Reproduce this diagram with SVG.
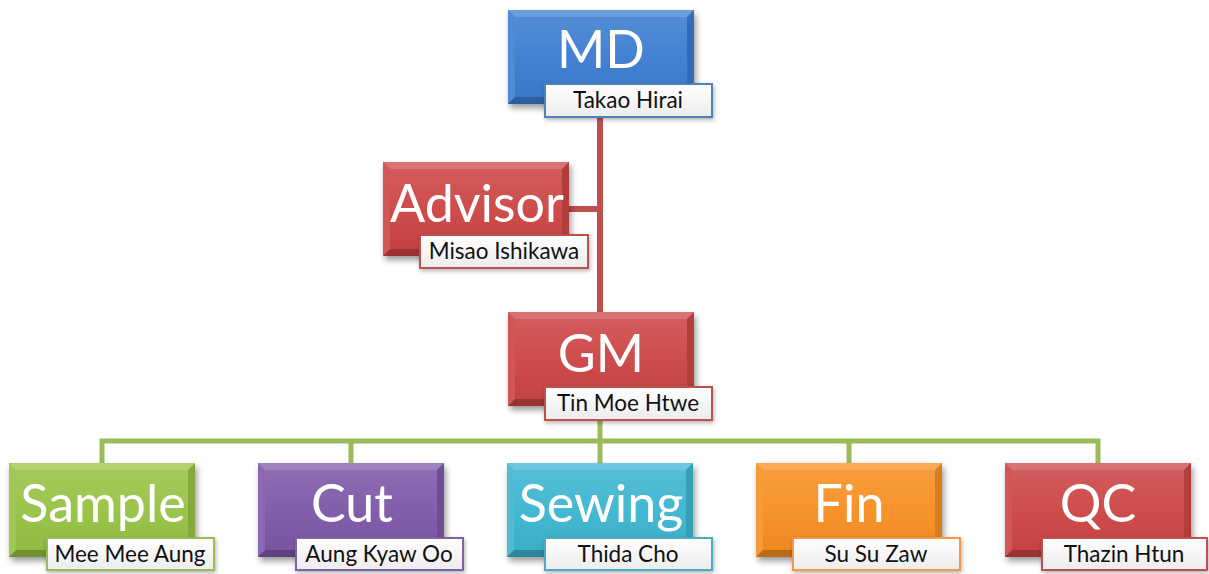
<svg xmlns="http://www.w3.org/2000/svg" xmlns:xlink="http://www.w3.org/1999/xlink" width="1209" height="574" viewBox="0 0 1209 574">
<defs>
<style>
.big{font-family:Lato,"Open Sans","Liberation Sans",sans-serif;font-size:52px;fill:#fff;text-anchor:middle}
.lbl{font-family:Lato,"Open Sans","Liberation Sans",sans-serif;font-size:22.5px;fill:#111;text-anchor:middle}
.lab{fill:url(#labg);stroke-width:2}
.red-c{stroke:#c0504d;stroke-width:6;fill:none}
.grn-c{stroke:#9bbb59;stroke-width:5;fill:none}
</style>
<filter id="sh" x="-10%" y="-10%" width="125%" height="130%">
<feDropShadow dx="2" dy="4" stdDeviation="3" flood-color="#000" flood-opacity="0.4"/>
</filter>
<filter id="sh2" x="-10%" y="-20%" width="125%" height="150%">
<feDropShadow dx="1" dy="2" stdDeviation="2" flood-color="#000" flood-opacity="0.3"/>
</filter>
<linearGradient id="labg" x1="0" y1="0" x2="0" y2="1">
<stop offset="0" stop-color="#ffffff"/>
<stop offset="1" stop-color="#ececec"/>
</linearGradient>
<linearGradient id="face" x1="0" y1="0" x2="0" y2="1">
<stop offset="0" stop-color="#fff" stop-opacity="0.12"/>
<stop offset="0.5" stop-color="#fff" stop-opacity="0.04"/>
<stop offset="1" stop-color="#000" stop-opacity="0.04"/>
</linearGradient>
<g id="bevel">
<rect x="7" y="7" width="172" height="80" fill="url(#face)"/>
<polygon points="0,0 186,0 179,7 7,7" fill="#fff" fill-opacity="0.25"/>
<polygon points="0,0 7,7 7,87 0,94" fill="#fff" fill-opacity="0.1"/>
<polygon points="186,0 186,94 179,87 179,7" fill="#000" fill-opacity="0.12"/>
<polygon points="0,94 186,94 179,87 7,87" fill="#000" fill-opacity="0.25"/>
</g>
</defs>
<rect width="1209" height="574" fill="#fff"/>

<g id="connectors">
<path class="red-c" d="M600,105 V312 M568,209 H600"/>
<path class="grn-c" d="M600,419 V441 M102,463 V441 H1098 V463 M351,441 V463 M600,441 V463 M849,441 V463"/>
</g>

<g id="md">
<rect x="508" y="10" width="186" height="94" fill="#3b7dd0" filter="url(#sh)"/>
<use xlink:href="#bevel" x="508" y="10"/>
<text class="big" x="601" y="68">MD</text>
<rect class="lab" x="545" y="84" width="167" height="33" stroke="#4f81bd" filter="url(#sh2)"/>
<text class="lbl" x="628" y="108">Takao Hirai</text>
</g>

<g id="advisor">
<rect x="383" y="162" width="186" height="94" fill="#cc4444" filter="url(#sh)"/>
<use xlink:href="#bevel" x="383" y="162"/>
<text class="big" x="477" y="222">Advisor</text>
<rect class="lab" x="420" y="235" width="168" height="33" stroke="#c0504d" filter="url(#sh2)"/>
<text class="lbl" x="504" y="259">Misao Ishikawa</text>
</g>

<g id="gm">
<rect x="508" y="312" width="186" height="94" fill="#cc4444" filter="url(#sh)"/>
<use xlink:href="#bevel" x="508" y="312"/>
<text class="big" x="601" y="372">GM</text>
<rect class="lab" x="545" y="387" width="167" height="33" stroke="#c0504d" filter="url(#sh2)"/>
<text class="lbl" x="628" y="411">Tin Moe Htwe</text>
</g>

<g id="sample">
<rect x="9" y="463" width="186" height="94" fill="#97c245" filter="url(#sh)"/>
<use xlink:href="#bevel" x="9" y="463"/>
<text class="big" x="103" y="522">Sample</text>
<rect class="lab" x="47" y="538" width="167" height="32" stroke="#9bbb59" filter="url(#sh2)"/>
<text class="lbl" x="130" y="562">Mee Mee Aung</text>
</g>

<g id="cut">
<rect x="258" y="463" width="186" height="94" fill="#7d59a8" filter="url(#sh)"/>
<use xlink:href="#bevel" x="258" y="463"/>
<text class="big" x="352" y="522">Cut</text>
<rect class="lab" x="296" y="538" width="167" height="32" stroke="#8064a2" filter="url(#sh2)"/>
<text class="lbl" x="379" y="562">Aung Kyaw Oo</text>
</g>

<g id="sewing">
<rect x="507" y="463" width="186" height="94" fill="#3db5d0" filter="url(#sh)"/>
<use xlink:href="#bevel" x="507" y="463"/>
<text class="big" x="601" y="522">Sewing</text>
<rect class="lab" x="545" y="538" width="167" height="32" stroke="#4bacc6" filter="url(#sh2)"/>
<text class="lbl" x="628" y="562">Thida Cho</text>
</g>

<g id="fin">
<rect x="756" y="463" width="186" height="94" fill="#f78f24" filter="url(#sh)"/>
<use xlink:href="#bevel" x="756" y="463"/>
<text class="big" x="849" y="522">Fin</text>
<rect class="lab" x="793" y="538" width="167" height="32" stroke="#f79646" filter="url(#sh2)"/>
<text class="lbl" x="876" y="562">Su Su Zaw</text>
</g>

<g id="qc">
<rect x="1005" y="463" width="186" height="94" fill="#cc4444" filter="url(#sh)"/>
<use xlink:href="#bevel" x="1005" y="463"/>
<text class="big" x="1098" y="522">QC</text>
<rect class="lab" x="1042" y="538" width="165" height="32" stroke="#c0504d" filter="url(#sh2)"/>
<text class="lbl" x="1124" y="562">Thazin Htun</text>
</g>
</svg>
